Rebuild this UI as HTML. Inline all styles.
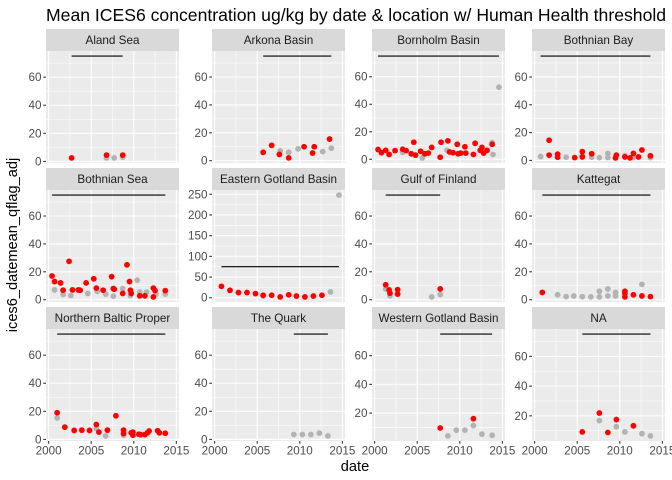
<!DOCTYPE html>
<html><head><meta charset="utf-8">
<style>
html,body{margin:0;padding:0;background:#fff;}
svg{display:block;font-family:"Liberation Sans",Arial,sans-serif;}
</style></head>
<body>
<svg id="chart" width="672" height="480" viewBox="0 0 672 480">
<text x="46" y="21" font-size="17.6" fill="#000">Mean ICES6 concentration ug/kg by date &amp; location w/ Human Health threshold</text>
<text x="355" y="471" font-size="14.6" text-anchor="middle" fill="#000">date</text>
<text transform="translate(17,245) rotate(-90)" font-size="14.6" text-anchor="middle" fill="#000">ices6_datemean_qflag_adj</text>
</svg>
<script>
const threshold = 75;
const xTicks = [2000, 2005, 2010, 2015];
const xMinor = [2002.5, 2007.5, 2012.5];

const panelNames = ["Aland Sea","Arkona Basin","Bornholm Basin","Bothnian Bay","Bothnian Sea","Eastern Gotland Basin","Gulf of Finland","Kattegat","Northern Baltic Proper","The Quark","Western Gotland Basin","NA"];

const alandYears = [2002.7,2006.8,2006.8,2007.7,2008.7,2008.7];
const alandValues = [2.5,4.5,2.5,2.5,4.5,3];
const alandFlags = ["r","r","g","g","r","g"];

const arkonaYears = [2005.7,2006.7,2007.7,2007.6,2008.7,2008.7,2009.8,2010.5,2011.5,2011.7,2012.7,2013.5,2013.7];
const arkonaValues = [6,11,7,4.5,6,2,8.5,10,5.5,10,6.5,15.5,9];
const arkonaFlags = ["r","r","g","r","g","r","g","r","r","r","g","r","g"];

const bornholmYears = [2000.4,2000.8,2001.3,2001.7,2002.4,2003.3,2003.7,2004.3,2004.6,2004.8,2005.4,2005.6,2005.9,2006.3,2006.7,2007.7,2007.8,2008.6,2008.8,2009.2,2009.7,2009.8,2010.1,2010.6,2010.7,2011.6,2011.8,2012.4,2012.6,2012.8,2013.2,2013.8,2008.5,2013.8,2013.9,2003.3,2014.6];
const bornholmValues = [7.1,4.8,6.5,3.5,6.3,7.3,6.3,4,12.4,3,5.8,1,4,4.5,8.6,1.5,12.4,13.4,5.3,4.8,10.9,4,4.5,9.1,4.5,3.5,11.6,6.5,8.6,4.5,6.5,10.9,6.5,12.2,3.5,5,52.4];
const bornholmFlags = ["r","r","r","r","r","r","r","r","r","r","r","g","r","r","r","r","r","r","r","r","r","r","r","r","r","r","r","r","r","r","r","r","g","g","g","g","g"];

const bayYears = [2000.7,2001.7,2001.7,2002.7,2002.7,2003.7,2004.7,2005.6,2005.6,2005.6,2006.7,2006.7,2007.6,2008.6,2008.6,2009.6,2009.5,2010.6,2010.6,2011.2,2011.6,2011.6,2012.2,2012.6,2013.6,2013.6];
const bayValues = [2.8,14.5,3.8,4.5,2.3,2.3,2,3.8,6.3,2.5,4.8,2.3,2,5,2,3.8,1.8,3.5,2.5,1.8,5,2,2.5,7.5,3.3,2];
const bayFlags = ["g","r","r","r","r","g","r","g","r","r","r","g","g","g","g","r","r","g","r","r","r","g","r","r","r","g"];

const seaYears = [2000.4,2000.7,2000.7,2001.4,2001.7,2001.7,2002.4,2002.6,2002.8,2003.5,2003.7,2004.4,2004.6,2005.3,2005.6,2005.7,2006.4,2006.7,2007.4,2007.6,2007.6,2007.7,2008.7,2008.7,2009.2,2009.5,2009.6,2009.6,2009.7,2010.4,2010.7,2010.7,2011.3,2011.5,2012.3,2012.3,2012.5,2012.6,2013.7,2013.7];
const seaValues = [17,13,7,12,6.8,3.8,27.5,3,7,7,6.8,12,4.5,15,8.3,6,6.8,4,16.5,8,2.5,7.5,8,4.5,25,13,6.8,3,4.5,14,2.8,5.5,2.8,5.5,8.3,2,6.5,4,6.5,4];
const seaFlags = ["r","r","g","r","r","g","r","g","r","r","r","r","g","r","r","g","r","g","r","r","g","r","g","r","r","r","r","g","r","g","r","g","r","g","r","r","r","g","r","g"];

const egYears = [2000.8,2001.8,2002.8,2003.8,2004.8,2005.7,2005.7,2006.7,2007.7,2008.7,2009.6,2010.6,2011.6,2012.6,2013.6,2014.6];
const egValues = [27.5,18,12.5,12.5,10,6,4,6,2,7,4,2,4,6,14,248];
const egFlags = ["r","r","r","r","r","r","g","r","r","r","r","r","r","r","g","g"];

const gofYears = [2001.3,2001.3,2001.7,2001.8,2001.8,2002.7,2002.7,2006.7,2007.7,2007.7];
const gofValues = [10.7,7.7,7,4.7,2.8,7.2,4,2,3.7,7.7];
const gofFlags = ["r","g","r","r","g","r","r","g","g","r"];

const kattYears = [2000.9,2002.7,2003.7,2004.6,2005.6,2006.6,2007.6,2007.6,2008.6,2008.6,2009.5,2009.5,2010.6,2010.6,2010.6,2011.6,2012.6,2012.6,2013.6];
const kattValues = [5.2,3.5,2.2,2.7,2.2,2,6,2,7.7,2.7,5.2,2.7,6,4.5,2,3.5,11,2.7,2.2];
const kattFlags = ["r","g","g","g","g","g","g","g","g","g","g","g","r","r","r","r","g","r","r"];

const nbpYears = [2001.0,2001.0,2001.9,2003.0,2003.9,2004.8,2005.6,2005.6,2005.9,2006.7,2006.9,2007.9,2008.8,2008.8,2008.8,2009.7,2009.9,2009.9,2010.6,2010.8,2011.3,2011.6,2011.8,2012.8,2013.0,2013.7];
const nbpValues = [19,15.3,8.7,6.4,6.6,6.4,10.6,7.7,5.2,2.5,6.6,16.8,6.6,4.2,3,4.7,3,5.2,3.7,3.4,3.4,4.7,6,6.2,4.7,4.4];
const nbpFlags = ["r","g","r","r","r","r","r","g","r","g","r","r","r","r","g","r","r","r","r","r","r","r","r","r","r","r"];

const quarkYears = [2009.3,2010.3,2011.3,2012.3,2013.3];
const quarkValues = [3.5,3.5,3.5,4.5,2.5];
const quarkFlags = ["g","g","g","g","g"];

const wgYears = [2007.7,2008.6,2009.6,2010.6,2011.6,2011.6,2012.6,2013.8];
const wgValues = [9.6,4.1,8.1,8.1,11.3,16.1,5.3,4.5];
const wgFlags = ["r","g","g","g","g","r","g","g"];

const naYears = [2005.6,2007.6,2007.6,2008.6,2009.6,2009.6,2010.6,2011.6,2012.6,2013.6];
const naValues = [9.2,21.9,16.8,8.8,17.5,12.7,9.2,13.3,8,6.5];
const naFlags = ["r","r","g","r","r","g","g","r","g","g"];

const panelYears = [alandYears,arkonaYears,bornholmYears,bayYears,seaYears,egYears,gofYears,kattYears,nbpYears,quarkYears,wgYears,naYears];
const panelValues = [alandValues,arkonaValues,bornholmValues,bayValues,seaValues,egValues,gofValues,kattValues,nbpValues,quarkValues,wgValues,naValues];
const panelFlags = [alandFlags,arkonaFlags,bornholmFlags,bayFlags,seaFlags,egFlags,gofFlags,kattFlags,nbpFlags,quarkFlags,wgFlags,naFlags];

const NS = "http://www.w3.org/2000/svg";
const svg = document.getElementById("chart");
const colLeft = [46,212,372,532];
const rowTop = [51,190,329];
const PW = 133, PH = 112, SH = 22;

function mk(tag, attrs, parent){
  const e = document.createElementNS(NS, tag);
  for (const k in attrs) e.setAttribute(k, attrs[k]);
  (parent||svg).appendChild(e);
  return e;
}

// global x domain
let allY = [];
panelYears.forEach(a => allY = allY.concat(a));
const xMin0 = Math.min(...allY), xMax0 = Math.max(...allY);
const xPad = (xMax0 - xMin0) * 0.05;
const xDom = [xMin0 - xPad, xMax0 + xPad];

panelNames.forEach((name, i) => {
  const col = i % 4, row = Math.floor(i / 4);
  const L = colLeft[col], T = rowTop[row];
  const yrs = panelYears[i], vals = panelValues[i], flags = panelFlags[i];
  const g = mk("g", {});
  
  

  const vMin0 = Math.min(...vals, threshold), vMax0 = Math.max(...vals, threshold);
  const vPad = (vMax0 - vMin0) * 0.05;
  const yDom = [vMin0 - vPad, vMax0 + vPad];
  const sx = v => L + (v - xDom[0]) / (xDom[1] - xDom[0]) * PW;
  const sy = v => T + PH - (v - yDom[0]) / (yDom[1] - yDom[0]) * PH;

  // strip
  const strip = mk("rect", {x:L, y:T-SH, width:PW, height:SH, fill:"#D9D9D9"}, g);
  
  
  const st = mk("text", {x:L+PW/2, y:T-SH/2+4, "font-size":"11.7", "text-anchor":"middle", fill:"#1A1A1A"}, g);
  st.textContent = name;
  
  

  const bg = mk("rect", {x:L, y:T, width:PW, height:PH, fill:"#EBEBEB"}, g);
  
  

  const step = (yDom[1] - yDom[0]) > 150 ? 50 : 20;
  const yMaj = [], yMin = [];
  for (let v = 0; v <= yDom[1]; v += step) if (v >= yDom[0]) yMaj.push(v);
  for (let v = -step/2; v <= yDom[1]; v += step) if (v >= yDom[0]) yMin.push(v);

  yMin.forEach(v => mk("line", {x1:L, x2:L+PW, y1:sy(v), y2:sy(v), stroke:"#fff", "stroke-width":"0.53"}, g));
  xMinor.forEach(v => mk("line", {x1:sx(v), x2:sx(v), y1:T, y2:T+PH, stroke:"#fff", "stroke-width":"0.53"}, g));
  yMaj.forEach(v => mk("line", {x1:L, x2:L+PW, y1:sy(v), y2:sy(v), stroke:"#fff", "stroke-width":"1.07"}, g));
  xTicks.forEach(v => mk("line", {x1:sx(v), x2:sx(v), y1:T, y2:T+PH, stroke:"#fff", "stroke-width":"1.07"}, g));

  // y axis ticks & labels
  yMaj.forEach(v => {
    mk("line", {x1:L-2.75, x2:L, y1:sy(v), y2:sy(v), stroke:"#333", "stroke-width":"1.07"}, g);
    const t = mk("text", {x:L-4.5, y:sy(v)+4, "font-size":"11.7", "text-anchor":"end", fill:"#4D4D4D"}, g);
    t.textContent = v;
    
    
  });
  if (row === 2) {
    xTicks.forEach(v => {
      mk("line", {x1:sx(v), x2:sx(v), y1:T+PH, y2:T+PH+2.75, stroke:"#333", "stroke-width":"1.07"}, g);
      const t = mk("text", {x:sx(v), y:T+PH+13.5, "font-size":"11.7", "text-anchor":"middle", fill:"#4D4D4D"}, g);
      t.textContent = v;
      
      
    });
  }

  // threshold line
  const tl = mk("line", {x1:sx(Math.min(...yrs)), x2:sx(Math.max(...yrs)), y1:sy(threshold), y2:sy(threshold), stroke:"#000", "stroke-width":"1.1"}, g);
  
  

  // points: gray first, then red
  ["g","r"].forEach(f => {
    yrs.forEach((y, k) => {
      if (flags[k] !== f) return;
      const c = mk("circle", {cx:sx(y), cy:sy(vals[k]), r:"2.9", fill: f === "r" ? "#FF0000" : "#B3B3B3"}, g);
      
      
    });
  });
});
</script>
</body></html>
